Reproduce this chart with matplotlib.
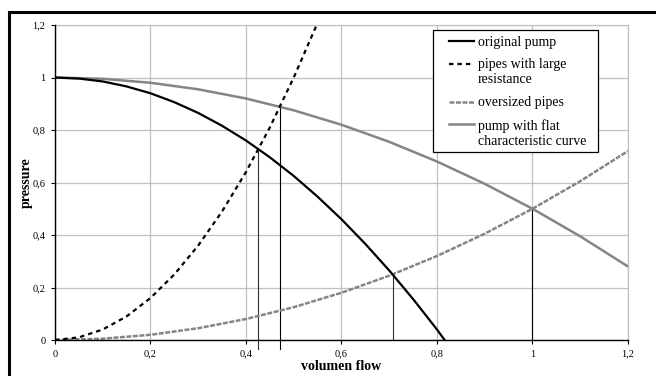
import matplotlib.pyplot as plt
from matplotlib.patches import Rectangle

plt.rcParams['font.family'] = ['Liberation Serif', 'DejaVu Serif']

# original pump
pump_x = [0, 0.05, 0.1, 0.15, 0.2, 0.25, 0.3, 0.35, 0.4, 0.45, 0.5, 0.55, 0.6,
          0.65, 0.7, 0.75, 0.8, 0.816]
pump_p = [1, 0.996, 0.985, 0.966, 0.94, 0.906, 0.865, 0.816, 0.76, 0.696, 0.625,
          0.546, 0.46, 0.366, 0.265, 0.156, 0.04, 0]

# pipes with large resistance
large_x = [0, 0.05, 0.1, 0.15, 0.2, 0.25, 0.3, 0.35, 0.4, 0.45, 0.5, 0.548]
large_p = [0, 0.01, 0.04, 0.09, 0.16, 0.25, 0.36, 0.49, 0.64, 0.81, 1.0, 1.2]

# oversized pipes and flat pump
wide_x = [0, 0.1, 0.2, 0.3, 0.4, 0.5, 0.6, 0.7, 0.8, 0.9, 1.0, 1.1, 1.2]
over_p = [0, 0.005, 0.02, 0.045, 0.08, 0.125, 0.18, 0.245, 0.32, 0.405, 0.5, 0.605, 0.72]
flat_p = [1, 0.995, 0.98, 0.955, 0.92, 0.875, 0.82, 0.755, 0.68, 0.595, 0.5, 0.395, 0.28]

# operating points (intersections)
op_x = [0.426, 0.471, 0.707, 1.0]
op_p = [0.727, 0.889, 0.25, 0.5]
op_bottom = [-0.035, -0.035, 0, 0]
op_color = ['#303030', 'black', '#303030', 'black']

ticks = [0, 0.2, 0.4, 0.6, 0.8, 1, 1.2]
tick_labels = ['0', '0,2', '0,4', '0,6', '0,8', '1', '1,2']

fig = plt.figure(figsize=(6.56, 3.76), dpi=100)
ax = fig.add_axes([0.0838, 0.0957, 0.8735, 0.8378])

gray = '#858585'
ax.plot(pump_x, pump_p, color='black', lw=1.6, label='original pump', zorder=4)
ax.plot(large_x, large_p, color='black', lw=1.6, dashes=(2, 1.8),
        label='pipes with large\nresistance', zorder=4)
ax.plot(wide_x, over_p, color=gray, lw=1.8, dashes=(2, 0.6),
        label='oversized pipes', zorder=3)
ax.plot(wide_x, flat_p, color=gray, lw=1.8,
        label='pump with flat\ncharacteristic curve', zorder=3)

for x, p, b, c in zip(op_x, op_p, op_bottom, op_color):
    ax.plot([x, x], [b, p], color=c, lw=0.8, clip_on=False, zorder=2)

ax.set_xlim(0, 1.2)
ax.set_ylim(0, 1.2)
ax.set_xticks(ticks)
ax.set_xticklabels(tick_labels)
ax.set_yticks(ticks)
ax.set_yticklabels(tick_labels)
ax.tick_params(direction='out', length=3, width=0.8, labelsize=7.5, pad=4)
ax.grid(True, color='#c0c0c0', lw=0.9)
ax.set_axisbelow(True)
for s in ['left', 'bottom']:
    ax.spines[s].set_color('black')
    ax.spines[s].set_linewidth(1.0)
    ax.spines[s].set_zorder(5)
for s in ['top', 'right']:
    ax.spines[s].set_color('#c0c0c0')
    ax.spines[s].set_linewidth(0.9)

ax.set_xlabel('volumen flow', fontsize=10, fontweight='bold')
ax.xaxis.set_label_coords(0.5, -0.065)
ax.set_ylabel('pressure', fontsize=10, fontweight='bold')
ax.yaxis.set_label_coords(-0.038, 0.5)

# legend box drawn separately, entries placed inside it
ax.add_patch(Rectangle((0.66, 0.597), 0.288, 0.387, transform=ax.transAxes,
                       facecolor='white', edgecolor='black', lw=0.9,
                       zorder=6, clip_on=False))
leg = ax.legend(loc='upper left', bbox_to_anchor=(0.6876, 0.966),
                fontsize=10, frameon=False, handlelength=1.8, handleheight=1.0,
                handletextpad=0.3, labelspacing=0.7, borderpad=0,
                borderaxespad=0)
leg.set_zorder(7)
# put the handle next to the first line of two-line labels
for col in leg._legend_handle_box.get_children():
    for item in col.get_children():
        item.align = 'top'

fig.patches.append(Rectangle((0.0137, -0.2), 1.5, 1.167, transform=fig.transFigure,
                             fill=False, edgecolor='black', lw=2.2))

fig.savefig('out.png', dpi=100)
